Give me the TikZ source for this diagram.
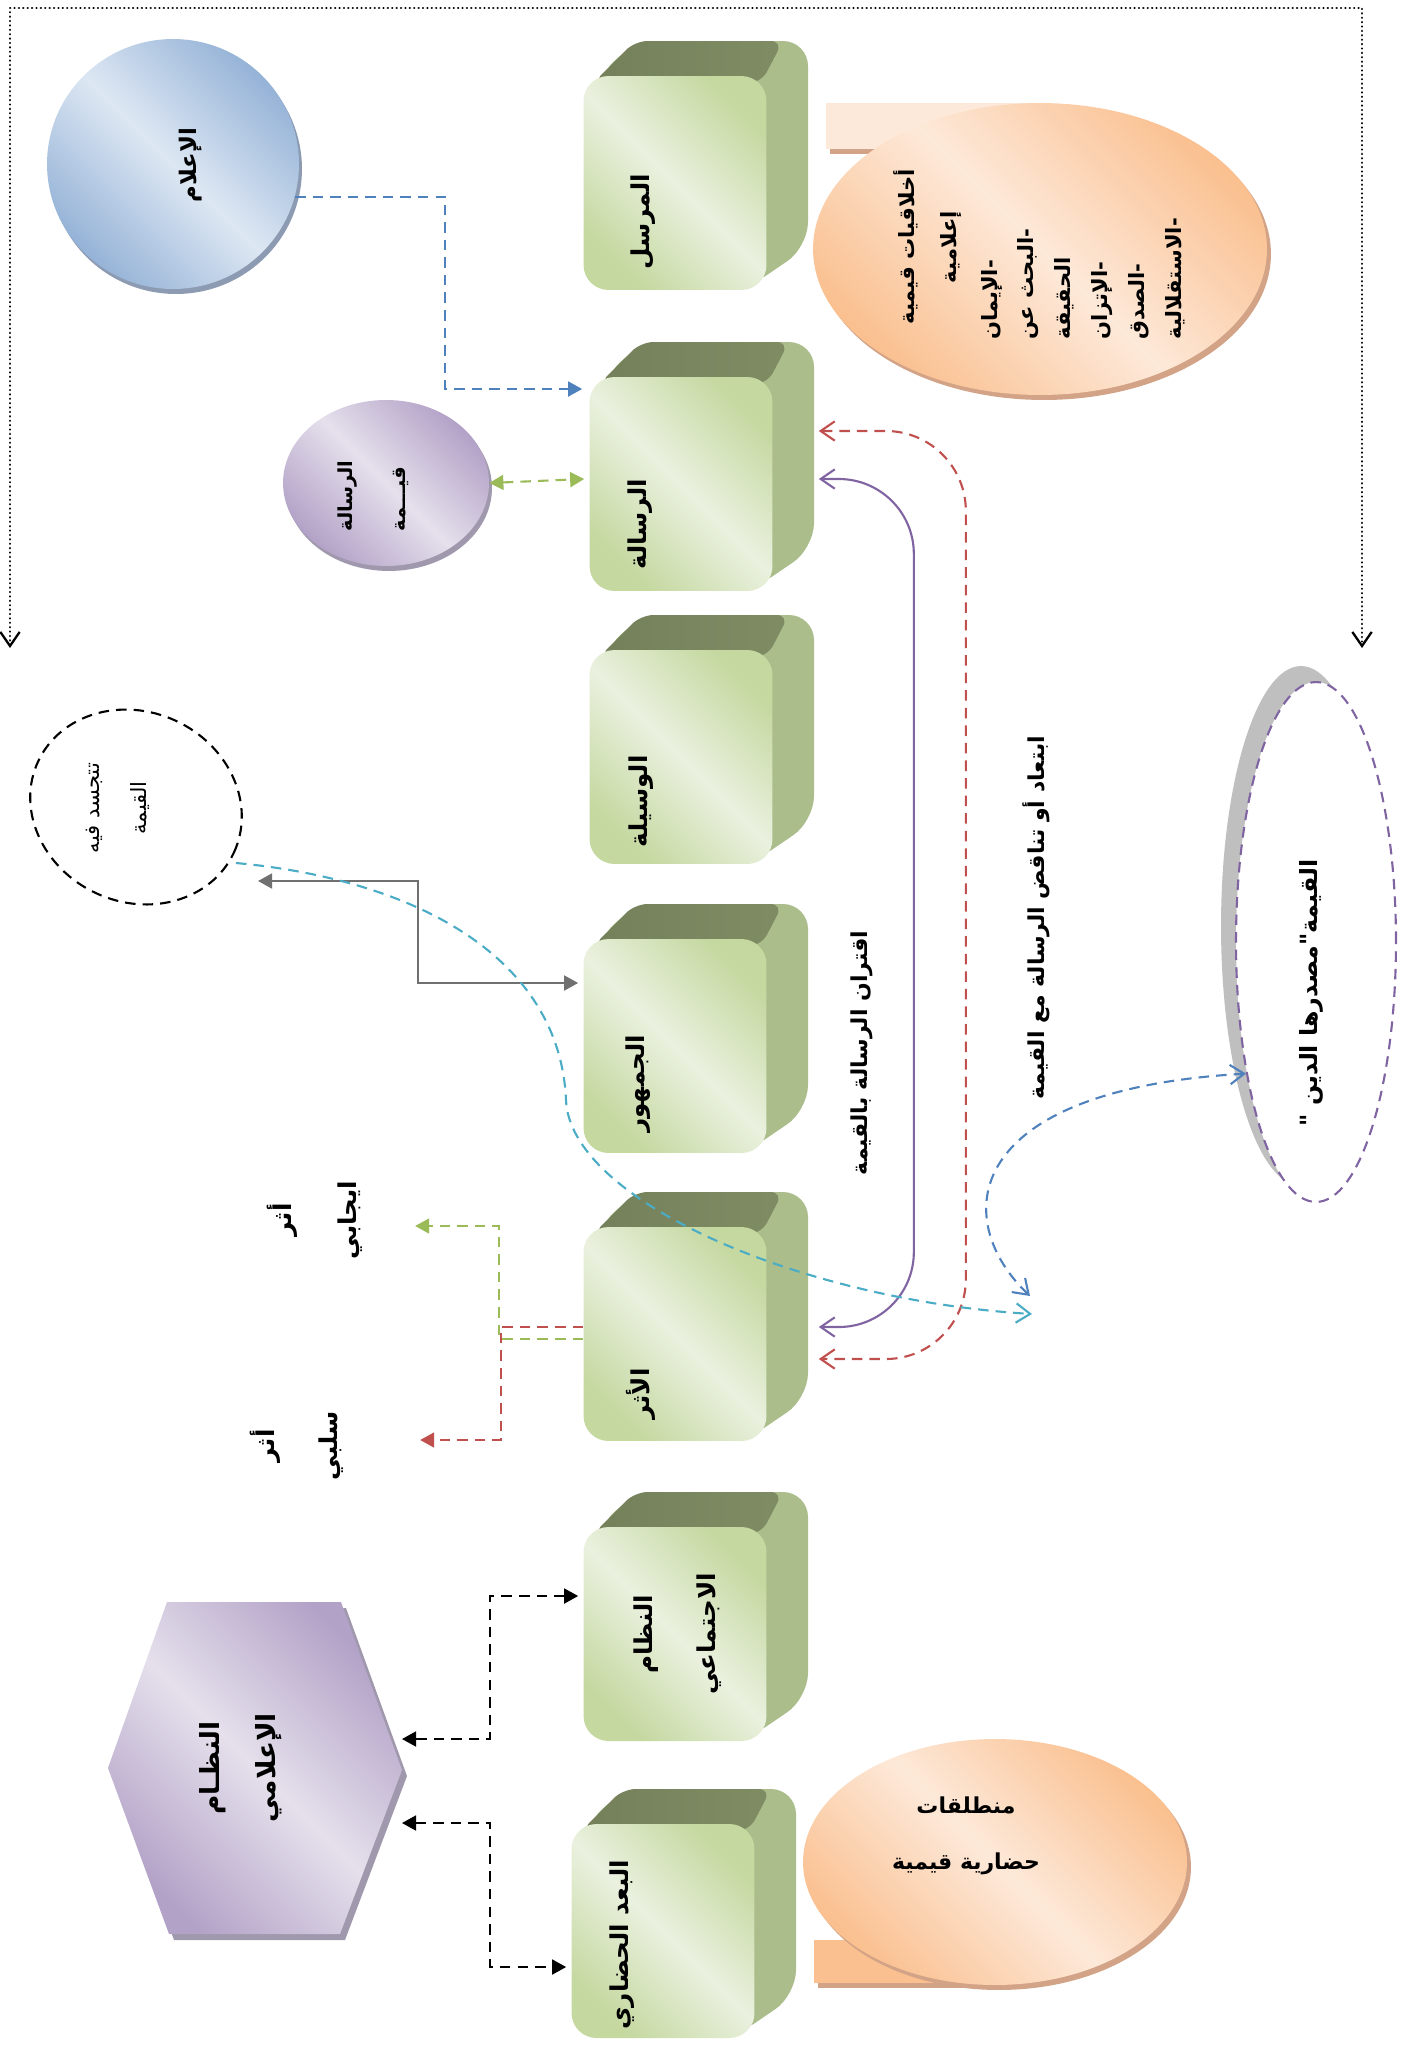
\documentclass[tikz,border=0pt]{standalone}
\usepackage{fontspec}
\usetikzlibrary{arrows.meta, calc, shadows, shapes.geometric}
\newfontfamily\arabicfont[Script=Arabic]{DejaVu Sans}
\TeXXeTstate=1
\newcommand{\artxt}[1]{\beginR #1\endR}

\definecolor{cubelight}{HTML}{EAF1DF}
\definecolor{cubedark}{HTML}{C5D8A0}
\definecolor{cubeside}{HTML}{ABBD8A}
\definecolor{cubetop}{HTML}{74805A}
\definecolor{bluelight}{HTML}{DDE7F3}
\definecolor{bluedark}{HTML}{95B3D7}
\definecolor{blueshadow}{HTML}{8C9BB2}
\definecolor{lilaclight}{HTML}{E5E0EC}
\definecolor{lilacdark}{HTML}{B3A2C7}
\definecolor{lilacshadow}{HTML}{A098AC}
\definecolor{peachlight}{HTML}{FDE9D9}
\definecolor{peachdark}{HTML}{FAC090}
\definecolor{peachshadow}{HTML}{D2A386}
\definecolor{lineblue}{HTML}{4F81BD}
\definecolor{linegreen}{HTML}{9BBB59}
\definecolor{linered}{HTML}{C0504D}
\definecolor{linepurple}{HTML}{8064A2}
\definecolor{linecyan}{HTML}{4BACC6}
\definecolor{linegray}{HTML}{707070}

\tikzstyle{cubefront} = [rectangle, rounded corners=0.5cm, minimum width=3.66cm, minimum height=4.28cm, top color=cubedark, bottom color=cubedark, middle color=cubelight, shading angle=-45]
\tikzstyle{cubetext} = [rotate=90, inner sep=0pt, font=\arabicfont\bfseries\fontsize{14}{36}\selectfont]
\tikzstyle{shapetext} = [rotate=90, inner sep=0pt, font=\arabicfont\bfseries\fontsize{15}{32}\selectfont]
\tikzstyle{bubble} = [ellipse, top color=peachdark, bottom color=peachdark, middle color=peachlight, shading angle=-45, general shadow={fill=peachshadow, shadow xshift=0.08cm, shadow yshift=-0.1cm}]
\tikzstyle{lilacball} = [ellipse, top color=lilacdark, bottom color=lilacdark, middle color=lilaclight, shading angle=-45, general shadow={fill=lilacshadow, shadow xshift=0.06cm, shadow yshift=-0.1cm}]
\tikzstyle{blueball} = [ellipse, top color=bluedark, bottom color=bluedark, middle color=bluelight, shading angle=-45, general shadow={fill=blueshadow, shadow xshift=0.06cm, shadow yshift=-0.1cm}]
\tikzstyle{dashline} = [line width=1.2pt, dash pattern=on 6pt off 4pt]
\tikzstyle{dotframe} = [line width=1.3pt, dash pattern=on 0.1pt off 2.4pt, line cap=round]
\tikzstyle{chev} = [>={Straight Barb[length=8pt, width=11pt]}]
\tikzstyle{tri} = [>={Triangle[length=8pt, width=8.5pt]}]

% 3D box: side and top faces, then the front face node
\newcommand{\greencube}[3]{%
  \fill[cubeside, rounded corners=0.5cm] (#2-80,#3-105) -- (#2-38,#3-142) -- (#2+133,#3-142) -- (#2+133,#3+64) -- (#2+70,#3+107) -- cycle;
  \shade[left color=cubetop, right color=cubetop!80!cubeside, rounded corners=0.25cm] (#2-82,#3-100) -- (#2-40,#3-142) -- (#2+108,#3-142) -- (#2+86,#3-100) -- cycle;
  \node[cubefront] (#1) at (#2,#3) {};
}

\begin{document}
\begin{tikzpicture}[x=0.02cm, y=-0.02cm]
\useasboundingbox (0,0) rectangle (1410,2045);

% dotted frame
\coordinate (frameL) at (10,648);
\coordinate (frameR) at (1362,648);
\draw[dotframe, chev, <->] (frameL) -- ++(0,-640) -| (frameR);

% speech bubbles
\fill[peachshadow] (830,108) rectangle (1044,154);
\fill[peachlight] (826,103) rectangle (1040,149);
\node[bubble, minimum width=9.08cm, minimum height=5.84cm] (ethics) at (1040,249) {};
\fill[peachshadow] (818,1945) rectangle (999,1988);
\fill[peachdark] (814,1940) rectangle (995,1983);
\node[bubble, minimum width=7.68cm, minimum height=4.92cm] (origins) at (995,1862) {};

% round shapes
\node[blueball, minimum width=5.04cm, minimum height=5cm] (ilam) at (173,164) {};
\node[lilacball, minimum width=4.12cm, minimum height=3.32cm] (rqima) at (386,483) {};
\node[ellipse, draw, dashline, minimum width=4.32cm, minimum height=3.8cm, rotate=-25] (tajassud) at (136,807) {};
\node[ellipse, draw=linepurple, fill=white, dashline, minimum width=3.2cm, minimum height=10.4cm,
      general shadow={fill=black!25, shadow xshift=-0.3cm, shadow yshift=0.32cm}] (qima) at (1316,942) {};

% hexagon
\coordinate (hexc) at (255,1768);
\fill[lilacshadow] ($(hexc)+(5,6)$) ++(-88,-166) -- ++(174,0) -- ++(61,168) -- ++(-62,164) -- ++(-171,0) -- ++(-61,-166) -- cycle;
\shade[top color=lilacdark, bottom color=lilacdark, middle color=lilaclight, shading angle=-45] (hexc) ++(-88,-166) -- ++(174,0) -- ++(61,168) -- ++(-62,164) -- ++(-171,0) -- ++(-61,-166) -- cycle;

% boxes
\greencube{mursil}{675}{183}
\greencube{risala}{681}{484}
\greencube{wasila}{681}{757}
\greencube{jumhur}{675}{1046}
\greencube{athar}{675}{1334}
\greencube{nizam}{675}{1634}
\greencube{buad}{663}{1931}

% texts
\node[cubetext, anchor=west] (mursil-l) at (643,270) {\artxt{المرسل}};
\node[cubetext, anchor=west] (risala-l) at (640,570) {\artxt{الرسالة}};
\node[cubetext, anchor=west] (wasila-l) at (641,848) {\artxt{الوسيلة}};
\node[cubetext, anchor=west] (jumhur-l) at (638,1133) {\artxt{الجمهور}};
\node[cubetext, anchor=west] (athar-l) at (641,1420) {\artxt{الأثر}};
\node[cubetext, align=center] (nizam-l) at (678,1634) {\artxt{النظام}\\\artxt{الاجتماعي}};
\node[cubetext, anchor=west] (buad-l) at (622,2030) {\artxt{البعد الحضاري}};

\node[shapetext, font=\arabicfont\bfseries\fontsize{13}{30}\selectfont] (ilam-l) at (191,165) {\artxt{الإعلام}};
\node[shapetext, align=left, anchor=west, font=\arabicfont\bfseries\fontsize{11}{30}\selectfont] (rqima-l) at (373,532) {\artxt{الرسالة}\\\artxt{قيـــمة}};
\node[shapetext, align=center, font=\arabicfont\fontsize{12}{27}\selectfont] (tajassud-l) at (118,808) {\artxt{تتجسد فيه}\\\artxt{القيمة}};
\node[shapetext, font=\arabicfont\bfseries\fontsize{13.5}{30}\selectfont] (qima-l) at (1311,993) {\artxt{القيمة"مصدرها الدين "}};
\node[shapetext, align=center] (hexa) at ($(hexc)+(-14,0)$) {\artxt{النظـام}\\\artxt{الإعلامي}};
\node[shapetext, align=center, font=\arabicfont\bfseries\fontsize{14}{37}\selectfont] (pos-l) at (315,1220) {\artxt{أثر}\\\artxt{ايجابي}};
\node[shapetext, align=center, font=\arabicfont\bfseries\fontsize{14}{36}\selectfont] (neg-l) at (297,1446) {\artxt{أثر}\\\artxt{سلبي}};
\node[shapetext, font=\arabicfont\bfseries\fontsize{12.5}{30}\selectfont] (iqtiran) at (862,1053) {\artxt{اقتران الرسالة بالقيمة}};
\node[shapetext, font=\arabicfont\bfseries\fontsize{12.5}{30}\selectfont] (ibtiad) at (1036,918) {\artxt{ابتعاد أو تناقض الرسالة مع القيمة}};
\node[shapetext, align=center, font=\arabicfont\bfseries\fontsize{12}{24}\selectfont] (ethics-h) at (928,247) {\artxt{أخلاقيات قيمية}\\\artxt{إعلامية}};
\node[shapetext, align=left, anchor=west, font=\arabicfont\bfseries\fontsize{12}{21}\selectfont] (ethics-l) at (1083,340)
  {\artxt{-الإيمان}\\\artxt{-البحث عن}\\\artxt{الحقيقة}\\\artxt{-الإتزان}\\\artxt{-الصدق}\\\artxt{-الاستقلالية}};
\node[align=center, inner sep=0pt, font=\arabicfont\bfseries\fontsize{12.5}{32}\selectfont] (origins-l) at (966,1836) {\artxt{منطلقات}\\\artxt{حضارية قيمية}};

% connectors
\draw[dashline, lineblue, tri, ->] (ilam.-15) -| ($(risala.west)+(-144,-95)$) -- ($(risala.west)+(-7,-95)$);
\draw[dashline, linegreen, tri, <->] (rqima.east) -- ($(risala.west)+(-5,-5)$);
\draw[line width=1.2pt, linegray, tri, <->] ($(tajassud.center)+(122,74)$) -- ++(160,0) |- ($(jumhur.west)+(-5,-63)$);
\draw[line width=1.2pt, linepurple, chev, <->, rounded corners=1.5cm] ($(risala.east)+(46,-5)$) -| ($(risala.east)!.5!(athar.east)+(144,0)$) |- ($(athar.east)+(52,-7)$);
\draw[dashline, linered, chev, <->, rounded corners=1.6cm] ($(risala.east)+(46,-53)$) -| ($(risala.east)!.5!(athar.east)+(196,0)$) |- ($(athar.east)+(52,25)$);
\draw[dashline, linegreen, tri, ->] ($(athar.west)+(0,5)$) -| ($(athar.west)+(-84,-108)$) -- ($(athar.west)+(-168,-108)$);
\draw[dashline, linered, tri, ->] ($(athar.west)+(0,-7)$) -| ($(athar.west)+(-82,106)$) -- ($(athar.west)+(-163,106)$);
\coordinate (cyanend) at (1032,1314);
\coordinate (blueend) at (1030,1296);
\draw[dashline, linecyan, chev, ->] ($(tajassud.center)+(100,56)$) .. controls (420,880) and (560,960) .. (566,1100) .. controls (570,1200) and (800,1300) .. (cyanend);
\draw[dashline, lineblue, chev, <->] (blueend) .. controls (950,1220) and (960,1090) .. (qima.242);
\draw[dashline, black, tri, <->] ($(nizam.west)+(-5,-38)$) -| ($(hexc)+(235,-29)$) -- ($(hexc)+(147,-29)$);
\draw[dashline, black, tri, <->] ($(hexc)+(147,55)$) -| ($(buad.west)+(-81,36)$) -- ($(buad.west)+(-5,36)$);
\end{tikzpicture}
\end{document}
